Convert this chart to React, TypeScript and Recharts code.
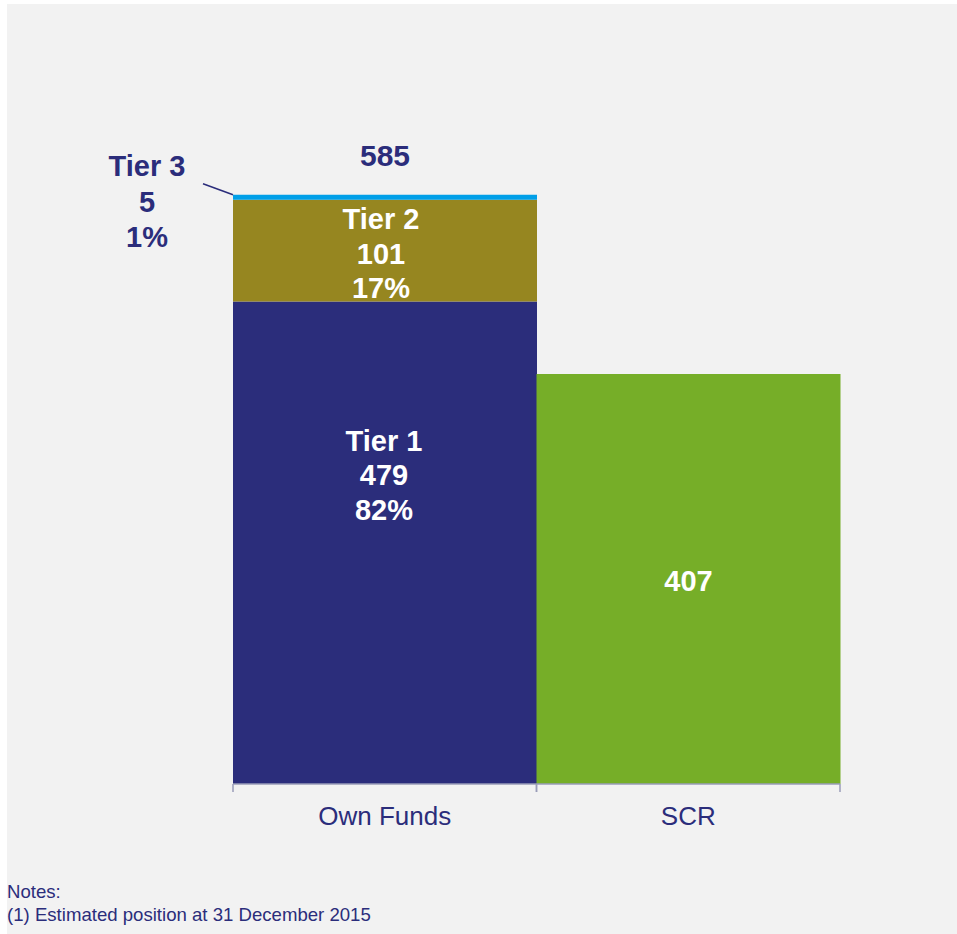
import { BarChart, Bar, XAxis, YAxis, LabelList } from "recharts";

const categories = ["Own Funds", "SCR"];
const tier1 = [479, null];
const tier2 = [101, null];
const tier3 = [5, null];
const scr = [null, 407];
const totals = [585, null];
const tierNames = ["Tier 1", "Tier 2", "Tier 3"];
const tierShares = ["82%", "17%", "1%"];
const notes = ["Notes:", "(1) Estimated position at 31 December 2015"];

const NAVY = "#2b2d7b";
const FONT = "'Liberation Sans', Arial, sans-serif";

const data = categories.map((name, i) => ({
  name,
  tier1: tier1[i],
  tier2: tier2[i],
  tier3: tier3[i],
  scr: scr[i],
  total: totals[i],
}));

const Lines = ({ x, cy, lines, fill, size, gap }: any) => (
  <text
    x={x}
    y={cy - ((lines.length - 1) * gap) / 2}
    fill={fill}
    fontSize={size}
    fontWeight="bold"
    fontFamily={FONT}
    textAnchor="middle"
    dominantBaseline="central"
  >
    {lines.map((l: string, i: number) => (
      <tspan key={i} x={x} dy={i === 0 ? 0 : gap}>
        {l}
      </tspan>
    ))}
  </text>
);

const tierLabel = (idx: number) => (props: any) => {
  const { x, y, width, height, value } = props;
  if (value == null) return null;
  const lines = [tierNames[idx], String(value), tierShares[idx]];
  if (idx === 0) {
    return <Lines x={x + width / 2 - 1} cy={y + height * 0.36} lines={lines} fill="#fff" size={29} gap={34.5} />;
  }
  if (idx === 1) {
    return <Lines x={x + width / 2 - 4} cy={y + height / 2 + 3} lines={lines} fill="#fff" size={29} gap={34.5} />;
  }
  return (
    <g>
      <line x1={x - 30} y1={y - 11} x2={x} y2={y} stroke={NAVY} strokeWidth={1.5} />
      <Lines x={x - 86} cy={y + 7} lines={lines} fill={NAVY} size={29} gap={35.5} />
    </g>
  );
};

const totalLabel = (props: any) => {
  const { x, y, width, value } = props;
  if (value == null) return null;
  return <Lines x={x + width / 2} cy={y - 40} lines={[String(value)]} fill={NAVY} size={30} gap={0} />;
};

const scrLabel = (props: any) => {
  const { x, y, width, height, value } = props;
  if (value == null) return null;
  return <Lines x={x + width / 2} cy={y + height / 2 + 2} lines={[String(value)]} fill="#fff" size={29} gap={0} />;
};

const AxisTick = (props: any) => {
  const { x, y, payload } = props;
  const half = payload && payload.offset ? payload.offset : 151.75;
  return (
    <g>
      <line x1={x - half} y1={y} x2={x - half} y2={y + 8} stroke="#9a9cb8" strokeWidth={1.5} />
      <line x1={x + half} y1={y} x2={x + half} y2={y + 8} stroke="#9a9cb8" strokeWidth={1.5} />
      <text x={x} y={y + 32} fill={NAVY} fontSize={26} fontFamily={FONT} textAnchor="middle" dominantBaseline="central">
        {payload.value}
      </text>
    </g>
  );
};

export default function App() {
  return (
    <div style={{ position: "absolute", left: 0, top: 0, width: 957, height: 934, background: "#fff" }}>
      <div style={{ position: "absolute", left: 7, top: 4, right: 0, bottom: 0, background: "#f2f2f2" }} />
      <div style={{ position: "absolute", left: 0, top: 0 }}>
        <BarChart
          width={957}
          height={934}
          data={data}
          margin={{ top: 79, right: 117, left: 233, bottom: 90 }}
          barCategoryGap={0}
          barGap={0}
        >
          <XAxis
            dataKey="name"
            height={60}
            axisLine={{ stroke: "#9a9cb8", strokeWidth: 1.5 }}
            tickLine={false}
            tickSize={0}
            tickMargin={0}
            tick={<AxisTick />}
            interval={0}
          />
          <YAxis hide domain={[0, 700]} />
          <Bar dataKey="tier1" stackId="a" fill="#2b2d7b" isAnimationActive={false}>
            <LabelList dataKey="tier1" content={tierLabel(0)} />
          </Bar>
          <Bar dataKey="tier2" stackId="a" fill="#968620" isAnimationActive={false}>
            <LabelList dataKey="tier2" content={tierLabel(1)} />
          </Bar>
          <Bar dataKey="tier3" stackId="a" fill="#009fe8" isAnimationActive={false}>
            <LabelList dataKey="tier3" content={tierLabel(2)} />
            <LabelList dataKey="total" content={totalLabel} />
          </Bar>
          <Bar dataKey="scr" stackId="a" fill="#76ae28" isAnimationActive={false}>
            <LabelList dataKey="scr" content={scrLabel} />
          </Bar>
        </BarChart>
      </div>
      <div
        style={{
          position: "absolute",
          left: 7,
          top: 880,
          color: NAVY,
          fontFamily: FONT,
          fontSize: 18.6,
          lineHeight: "23px",
        }}
      >
        {notes.map((n) => (
          <div key={n}>{n}</div>
        ))}
      </div>
    </div>
  );
}
